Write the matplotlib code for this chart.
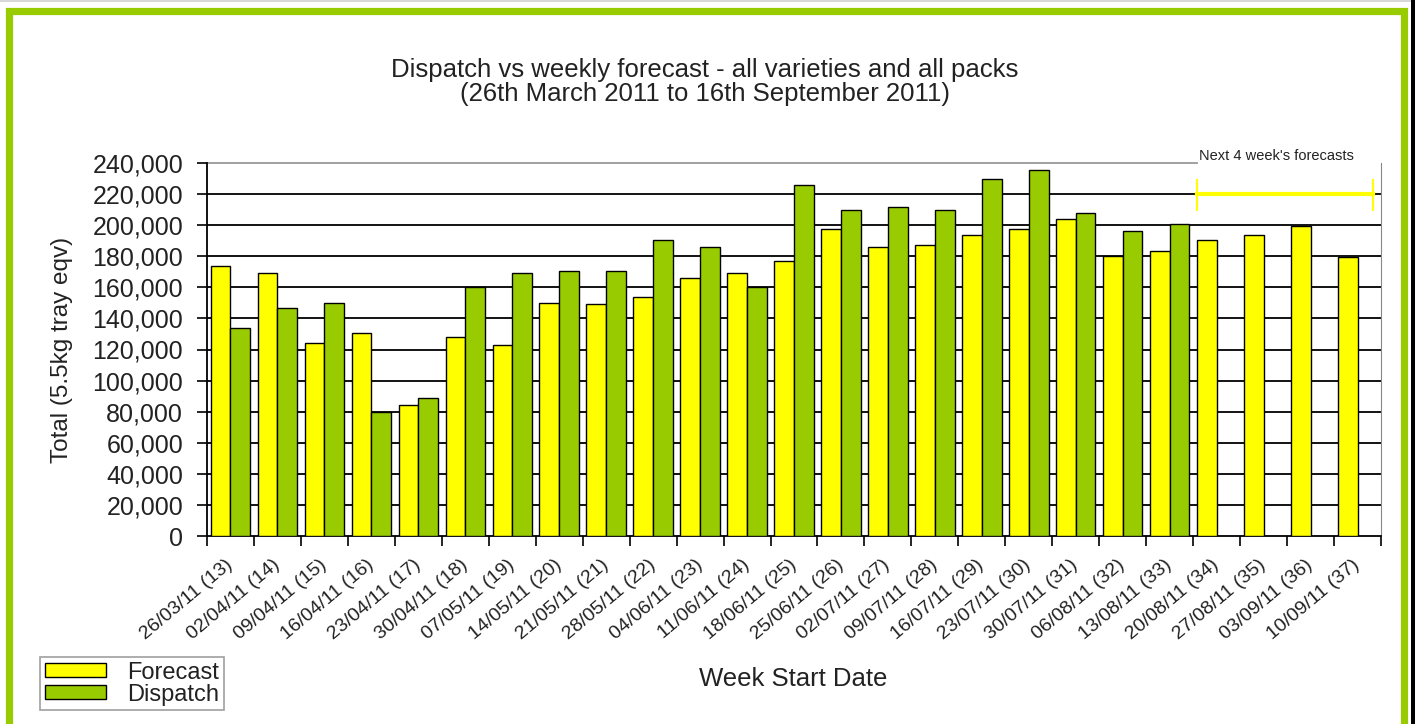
import numpy as np
import matplotlib
matplotlib.use("Agg")
import matplotlib.pyplot as plt
from matplotlib.patches import Rectangle, Patch

plt.rcParams['font.family'] = ['Liberation Sans', 'DejaVu Sans']

# weekly data
week_dates = ["26/03/11", "02/04/11", "09/04/11", "16/04/11", "23/04/11", "30/04/11",
              "07/05/11", "14/05/11", "21/05/11", "28/05/11", "04/06/11", "11/06/11",
              "18/06/11", "25/06/11", "02/07/11", "09/07/11", "16/07/11", "23/07/11",
              "30/07/11", "06/08/11", "13/08/11", "20/08/11", "27/08/11", "03/09/11",
              "10/09/11"]
week_numbers = list(range(13, 38))
forecast = [174000, 169500, 124000, 130500, 84000, 128000, 123000, 150000, 149000,
            153500, 166000, 169500, 177000, 197500, 186000, 187000, 193500, 197500,
            204000, 180000, 183500, 190500, 193500, 199500, 179500]
dispatch = [134000, 147000, 150000, 79500, 88500, 160000, 169500, 170500, 170500,
            190500, 186000, 160000, 226000, 209500, 212000, 209500, 230000, 235500,
            208000, 196000, 201000, np.nan, np.nan, np.nan, np.nan]
y_ticks = list(range(0, 240001, 20000))

labels = [f"{d} ({w})" for d, w in zip(week_dates, week_numbers)]

YELLOW = "#FFFF00"
GREEN = "#99CC00"
TXT = "#222222"

W, H = 1415, 724
fig = plt.figure(figsize=(W / 100, H / 100), dpi=100)
ax = fig.add_axes([207 / W, 1 - 536 / H, (1381 - 207) / W, (536 - 163) / H])

x = np.arange(len(labels))
bw = 0.42
ax.bar(x - bw / 2, forecast, bw, color=YELLOW, edgecolor="black", linewidth=1.0, zorder=3)
ax.bar(x + bw / 2, dispatch, bw, color=GREEN, edgecolor="black", linewidth=1.0, zorder=3)

ax.set_xlim(-0.5, len(labels) - 0.5)
ax.set_ylim(0, 240000)

# horizontal grid lines
for v in y_ticks[1:-1]:
    ax.axhline(v, color="black", linewidth=1.3, zorder=1)
ax.plot([-0.5, 20.58], [240000, 240000], color="#999999", linewidth=1.3,
        zorder=1, clip_on=False)

ax.spines["top"].set_visible(False)
ax.spines["right"].set_color("#888888")
ax.spines["left"].set_linewidth(1.3)
ax.spines["bottom"].set_linewidth(1.3)

ax.set_yticks(y_ticks)
ax.set_yticklabels([f"{v:,}" for v in y_ticks], fontsize=18, color=TXT)
ax.tick_params(axis="y", direction="out", length=7.2, width=1.2, pad=10)

ax.set_xticks(x)
ax.set_xticks(np.arange(-0.5, len(labels)), minor=True)
ax.tick_params(axis="x", which="major", length=0, pad=19)
ax.tick_params(axis="x", which="minor", direction="out", length=7.2, width=1.2)
ax.set_xticklabels(labels, rotation=40, ha="right", va="center",
                   rotation_mode="anchor", fontsize=14, color=TXT)

ax.set_ylabel("Total (5.5kg tray eqv)", fontsize=17.5, color=TXT, labelpad=14)
fig.text(793 / W, 1 - 679 / H, "Week Start Date", fontsize=18.5, color=TXT,
         ha="center", va="center")

fig.text(705 / W, 1 - 70 / H, "Dispatch vs weekly forecast - all varieties and all packs",
         fontsize=18.5, color=TXT, ha="center", va="center")
fig.text(705 / W, 1 - 94 / H, "(26th March 2011 to 16th September 2011)",
         fontsize=18.5, color=TXT, ha="center", va="center")

# next 4 weeks bracket
ax.plot([20.58, 24.33], [220000, 220000], color=YELLOW, linewidth=3, zorder=4, clip_on=False)
ax.plot([20.58, 20.58], [209800, 229200], color=YELLOW, linewidth=1.5, zorder=4, clip_on=False)
ax.plot([24.33, 24.33], [209800, 229200], color=YELLOW, linewidth=1.5, zorder=4, clip_on=False)
fig.text(1199 / W, 1 - 156 / H, "Next 4 week's forecasts", fontsize=10.5,
         color=TXT, ha="left", va="center")

handles = [Patch(facecolor=YELLOW, edgecolor="black", label="Forecast"),
           Patch(facecolor=GREEN, edgecolor="black", label="Dispatch")]
leg = fig.legend(handles=handles, loc="upper left",
                 bbox_to_anchor=(40 / W, 1 - 657 / H), fontsize=17,
                 frameon=True, fancybox=False, borderpad=0.2, labelspacing=0.0,
                 handlelength=2.6, handleheight=0.55, handletextpad=0.9,
                 borderaxespad=0)
leg.get_frame().set_edgecolor("#888888")
leg.get_frame().set_linewidth(1.2)
for t in leg.get_texts():
    t.set_color(TXT)

# page frame
fig.patches.append(Rectangle((8.5 / W, -0.05), (1403.5 - 8.5) / W, 1 - 10.5 / H + 0.05,
                             transform=fig.transFigure, fill=False,
                             edgecolor=GREEN, linewidth=5.2, zorder=0))
fig.patches.append(Rectangle((1411 / W, 0), 4 / W, 1, transform=fig.transFigure,
                             facecolor="black", edgecolor="none"))
fig.patches.append(Rectangle((0, 1 - 2 / H), 1411 / W, 2 / H, transform=fig.transFigure,
                             facecolor="#d8d8d8", edgecolor="none"))

fig.savefig("out.png", dpi=100)
